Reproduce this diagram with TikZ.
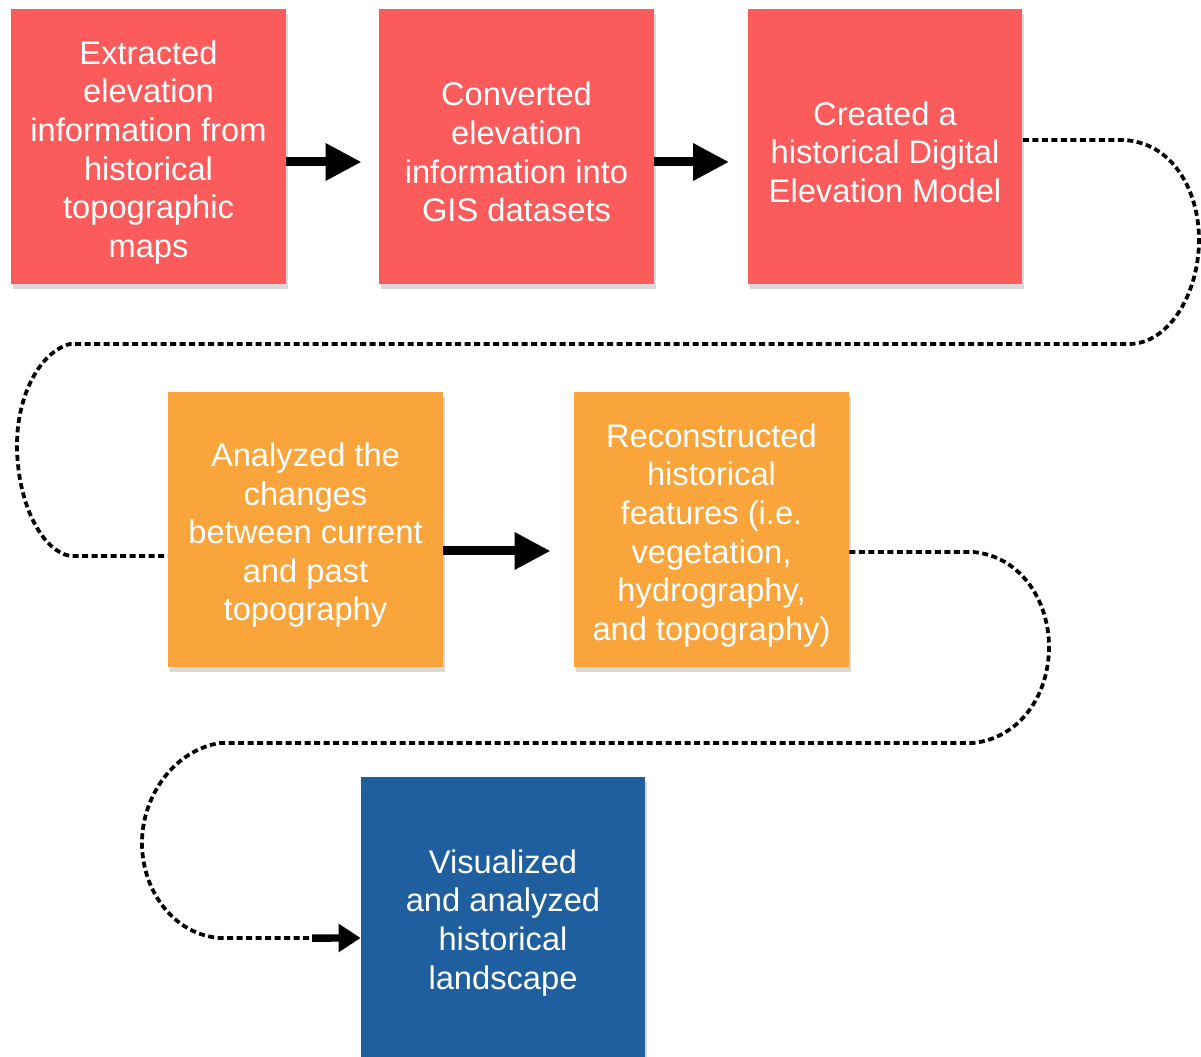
\documentclass[tikz,border=0pt]{standalone}
\usepackage{fontspec}
\setmainfont{Liberation Sans}
\usetikzlibrary{arrows.meta,shadows}
\definecolor{boxred}{HTML}{FB5B5B}
\definecolor{boxorange}{HTML}{F9A53B}
\definecolor{boxblue}{HTML}{1F5F9F}

\begin{document}
\begin{tikzpicture}[x=0.02cm, y=-0.02cm,
    box/.style={minimum width=5.5cm, minimum height=5.5cm, inner sep=0pt,
      align=center, text=white, font=\fontsize{18.6}{22}\selectfont,
      drop shadow={opacity=0.3, shadow xshift=0.04cm, shadow yshift=-0.1cm}},
    bigarrow/.style={line width=0.18cm, -{Triangle[length=0.72cm, width=0.7cm]}},
    smallarrow/.style={line width=0.15cm, -{Triangle[length=0.44cm, width=0.54cm]}},
    dots/.style={line width=0.075cm, dash pattern=on 0.12cm off 0.07cm}]

  \newcommand\Top{\rule{0pt}{20pt}}

  \useasboundingbox (0,0) rectangle (1201,1057);

  \node[box, fill=boxred] (ext) at (148.5,146.5) {\Top Extracted\\elevation\\information from\\historical\\topographic\\maps};
  \node[box, fill=boxred] (conv) at (516.5,146.5) {\Top Converted\\elevation\\information into\\GIS datasets};
  \node[box, fill=boxred] (dem) at (885,146.5) {\Top Created a\\historical Digital\\Elevation Model};
  \node[box, fill=boxorange] (ana) at (305.5,529.5) {\Top Analyzed the\\changes\\between current\\and past\\topography};
  \node[box, fill=boxorange] (rec) at (711.5,529.5) {\Top Reconstructed\\historical\\features (i.e.\\vegetation,\\hydrography,\\and topography)};
  \node[box, fill=boxblue, minimum width=5.68cm, minimum height=5.6cm] (vis) at (503,917) {\Top Visualized\\and analyzed\\historical\\landscape};

  \draw[bigarrow, shorten >=0.34cm] ([yshift=-0.31cm]ext.east) -- ([yshift=-0.31cm]conv.west); %% ext->conv
  \draw[bigarrow, shorten >=0.36cm] ([yshift=-0.31cm]conv.east) -- ([yshift=-0.31cm]dem.west); %% conv->dem
  \draw[bigarrow, shorten >=0.46cm] ([yshift=-0.43cm]ana.east) -- ([yshift=-0.43cm]rec.west); %% ana->rec

  %% dem->ana, round the right and the left
  \draw[dots] ([yshift=0.13cm]dem.east) -- (1123,140)
    .. controls (1172,142) and (1199,190) .. (1199,240)
    .. controls (1199,292) and (1170,343) .. (1130,344) -- (70,344)
    .. controls (40,352) and (17,395) .. (17,445)
    .. controls (17,500) and (40,550) .. (70,556) -- ([yshift=-0.53cm]ana.west);

  %% rec->vis
  \draw[dots] ([yshift=-0.45cm]rec.east) -- (973,552)
    .. controls (1020,556) and (1049,600) .. (1049,647)
    .. controls (1049,695) and (1020,738) .. (973,743) -- (220,743)
    .. controls (175,750) and (142,795) .. (142,843)
    .. controls (142,892) and (175,935) .. (220,938) -- (312,938) coordinate (tail);
  \draw[smallarrow] (tail) -- ([yshift=-0.42cm]vis.west);
\end{tikzpicture}
\end{document}
